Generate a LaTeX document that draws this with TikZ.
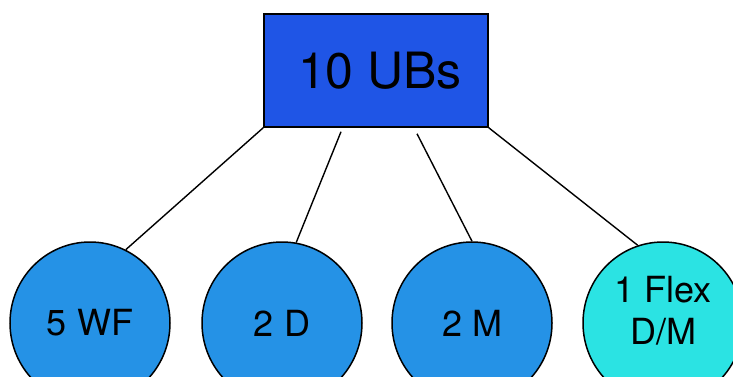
\documentclass[tikz,border=0pt]{standalone}
\usepackage{fontspec}
\setmainfont{TeX Gyre Heros}
\usetikzlibrary{shapes.geometric}
\definecolor{ubBlue}{RGB}{31,85,230}
\definecolor{groupBlue}{RGB}{37,146,230}
\definecolor{flexCyan}{RGB}{43,227,227}
\begin{document}
\begin{tikzpicture}[
    x=1pt, y=1pt,
    % Style for the top box
    topBox/.style={
        rectangle,
        draw=black,
        fill=ubBlue,
        line width=1.5pt,
        minimum width=224pt,
        minimum height=113pt,
        inner sep=0pt,
        font=\fontsize{50}{58}\selectfont
    },
    % Style for the group ellipses
    groupNode/.style={
        ellipse,
        draw=black,
        fill=groupBlue,
        line width=1.5pt,
        minimum width=160pt,
        minimum height=162pt,
        inner sep=0pt,
        align=center,
        font=\fontsize{36}{42}\selectfont
    },
    % Style for the links
    linkStyle/.style={
        draw=black,
        line width=1.4pt
    }
]
    \useasboundingbox (0,0) rectangle (733,376);

    % --- TOP BOX ---
    \node[topBox] (ubs) at (376,305.5) {\raisebox{-3pt}{\hspace*{8pt}10 UBs}};

    % --- GROUPS ---
    \node[groupNode] (wf) at (90,53) {5 WF};
    \node[groupNode] (dd) at (282,53) {2 D};
    \node[groupNode] (mm) at (472,53) {2 M};
    \node[groupNode, fill=flexCyan] (flex) at (663,53) {1 Flex\\D/M\\[-16pt]};

    % --- LINKS ---
    \coordinate (ubsD) at ([xshift=-35pt,yshift=-4pt]ubs.south);
    \coordinate (ubsM) at ([xshift=41pt,yshift=-6pt]ubs.south);
    \draw[linkStyle] (ubs.south west) -- (wf.64);
    \draw[linkStyle] (ubsD) -- (dd.80);
    \draw[linkStyle] (ubsM) -- (mm.north);
    \draw[linkStyle] (ubs.south east) -- (flex.108);

\end{tikzpicture}
\end{document}
